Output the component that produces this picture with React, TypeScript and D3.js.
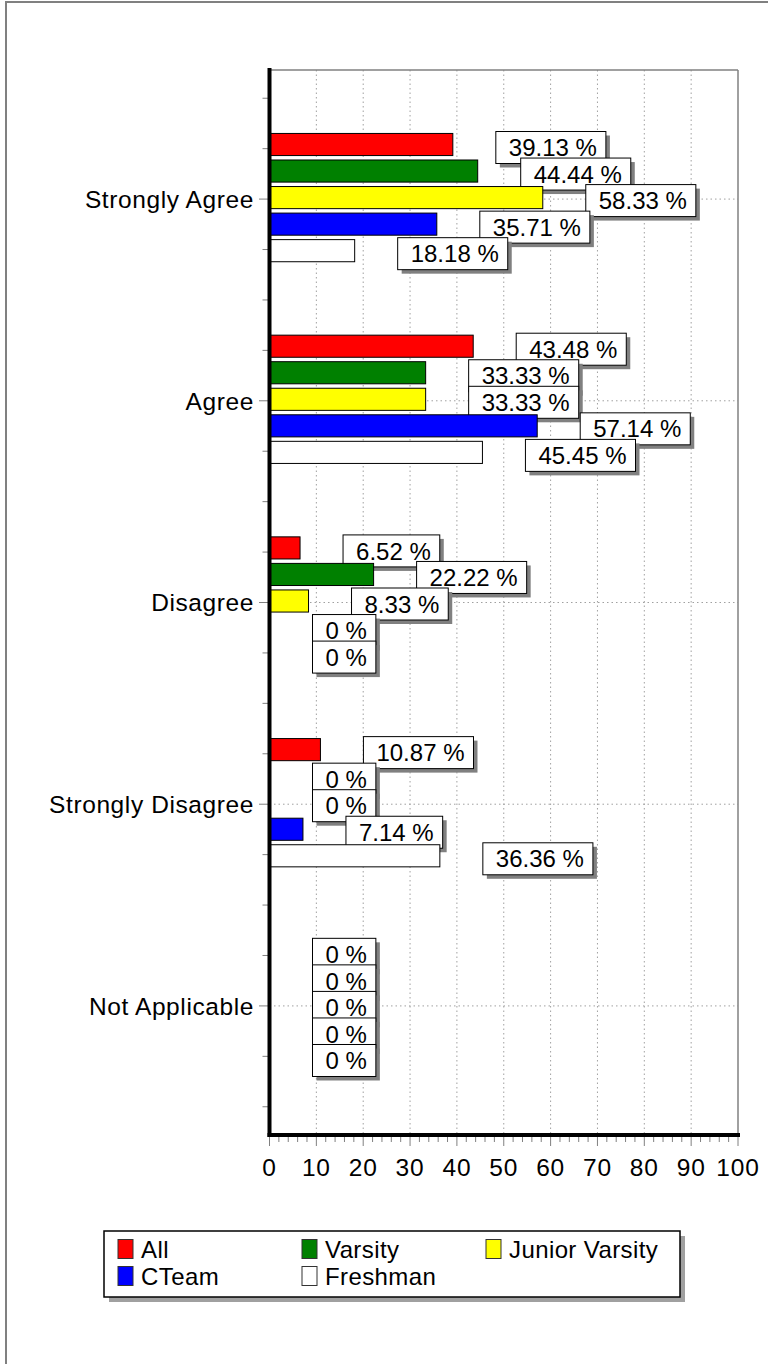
import React from "react";
import * as d3 from "d3";

const categories = ["Strongly Agree", "Agree", "Disagree", "Strongly Disagree", "Not Applicable"];
const seriesNames = ["All", "Varsity", "Junior Varsity", "CTeam", "Freshman"];
const seriesColors = ["#FF0000", "#008000", "#FFFF00", "#0000FF", "#FFFFFF"];
const allValues = [39.13, 43.48, 6.52, 10.87, 0];
const varsityValues = [44.44, 33.33, 22.22, 0, 0];
const juniorVarsityValues = [58.33, 33.33, 8.33, 0, 0];
const cteamValues = [35.71, 57.14, 0, 7.14, 0];
const freshmanValues = [18.18, 45.45, 0, 36.36, 0];
const xTickValues = [0, 10, 20, 30, 40, 50, 60, 70, 80, 90, 100];

const seriesValues = [allValues, varsityValues, juniorVarsityValues, cteamValues, freshmanValues];

const W = 768;
const H = 1364;
const FONT = "'Liberation Sans', Arial, sans-serif";
const FS = 24;

let ctx: CanvasRenderingContext2D | null = null;
function measure(t: string, size = FS) {
  if (!ctx && typeof document !== "undefined") {
    ctx = document.createElement("canvas").getContext("2d");
  }
  if (!ctx) return t.length * size * 0.55;
  ctx.font = `${size}px ${FONT}`;
  return ctx.measureText(t).width;
}

export default function App() {
  const left = 269.5;
  const right = 738;
  const top = 70;
  const bottom = 1135;

  const x = d3.scaleLinear().domain([0, 100]).range([left, right]);
  const y = d3.scalePoint<string>().domain(categories).range([top, bottom]).padding(0.64);
  const step = y.step();
  const inner = d3
    .scaleBand<string>()
    .domain(seriesNames)
    .range([-step * 0.318, step * 0.318])
    .paddingInner(0.167);

  const yTicks: { pos: number; major: boolean }[] = [];
  categories.forEach((c) => {
    for (let k = -2; k <= 2; k++) {
      const p = (y(c) as number) + (k * step) / 4;
      if (!yTicks.some((t) => Math.abs(t.pos - p) < 1)) yTicks.push({ pos: p, major: k === 0 });
    }
  });
  const minorX = d3.range(0, 101, 2);

  const grid = "#A0A0A0";

  return (
    <svg width={W} height={H} style={{ position: "absolute", left: 0, top: 0 }} fontFamily={FONT}>
      <rect x={0} y={0} width={W} height={H} fill="#fff" />
      {/* outer frame */}
      <line x1={6} y1={2} x2={W} y2={2} stroke="#808080" strokeWidth={2} />
      <line x1={6} y1={1} x2={6} y2={H} stroke="#808080" strokeWidth={2} />

      {/* grid */}
      {xTickValues.slice(1, -1).map((v) => (
        <line key={"gx" + v} x1={x(v)} x2={x(v)} y1={top} y2={bottom} stroke={grid} strokeDasharray="1.5 3" />
      ))}
      {categories.map((c) => (
        <line key={"gy" + c} x1={left} x2={right} y1={y(c)} y2={y(c)} stroke={grid} strokeDasharray="1.5 3" />
      ))}
      {/* plot frame */}
      <line x1={left} x2={right} y1={top} y2={top} stroke="#808080" strokeWidth={1.5} />
      <line x1={right} x2={right} y1={top} y2={bottom} stroke="#808080" strokeWidth={1.5} />

      {/* series: bars then labels */}
      {seriesNames.map((s, si) => (
        <g key={s}>
          {categories.map((c, ci) => {
            const v = seriesValues[si][ci];
            const by = (y(c) as number) - 1.5 + (inner(s) as number);
            const bh = inner.bandwidth();
            return (
              <rect
                key={"b" + c}
                x={x(0)}
                y={by}
                width={Math.max(0, x(v) - x(0))}
                height={bh}
                fill={seriesColors[si]}
                stroke="#000"
                strokeWidth={1}
              />
            );
          })}
          {categories.map((c, ci) => {
            const v = seriesValues[si][ci];
            const label = `${v} %`;
            const tw = measure(label);
            const bw = tw + 22;
            const bh = 32;
            const cy = (y(c) as number) - 1.5 + (inner(s) as number) + inner.bandwidth() / 2 + 3;
            const bx = x(v) + 43;
            const byy = cy - bh / 2;
            return (
              <g key={"l" + c}>
                <rect x={bx + 4} y={byy + 4} width={bw} height={bh} fill="#808080" />
                <rect x={bx} y={byy} width={bw} height={bh} fill="#fff" stroke="#000" strokeWidth={1} />
                <text x={bx + 13} y={cy} dy="0.36em" fontSize={FS} fill="#000">
                  {label}
                </text>
              </g>
            );
          })}
        </g>
      ))}

      {/* y axis */}
      {yTicks.map((t, i) => (
        <line key={"yt" + i} x1={t.major ? 259 : 262.5} x2={left} y1={t.pos} y2={t.pos} stroke="#808080" strokeWidth={1} />
      ))}
      {categories.map((c) => (
        <text key={"yl" + c} x={254} y={y(c)} dy="0.36em" textAnchor="end" fontSize={24.5} letterSpacing={0.6} fill="#000">
          {c}
        </text>
      ))}
      <line x1={left} x2={left} y1={top - 2} y2={bottom + 2} stroke="#000" strokeWidth={4} />

      {/* x axis */}
      {minorX.map((v) => (
        <line
          key={"xt" + v}
          x1={x(v)}
          x2={x(v)}
          y1={bottom}
          y2={bottom + (v % 10 === 0 ? 11 : 7)}
          stroke="#808080"
          strokeWidth={1}
        />
      ))}
      <line x1={left - 2} x2={right + 2} y1={bottom} y2={bottom} stroke="#000" strokeWidth={4} />
      {xTickValues.map((v) => (
        <text key={"xl" + v} x={x(v)} y={1167} dy="0.36em" textAnchor="middle" fontSize={24.5} letterSpacing={0.8} fill="#000">
          {v}
        </text>
      ))}

      {/* legend */}
      <rect x={109} y={1236} width={576} height={66} fill="#A0A0A0" />
      <rect x={104} y={1231} width={576} height={66} fill="#fff" stroke="#000" strokeWidth={1.5} />
      {seriesNames.map((s, i) => {
        const col = i % 3;
        const row = Math.floor(i / 3);
        const sx = [118, 302, 486][col];
        const cy = [1249, 1276][row];
        return (
          <g key={"lg" + s}>
            <rect x={sx} y={cy - 9.5} width={15} height={19} fill={seriesColors[i]} stroke="#333" strokeWidth={1} />
            <text x={sx + 23} y={cy} dy="0.36em" fontSize={24} letterSpacing={0.4} fill="#000">
              {s}
            </text>
          </g>
        );
      })}
    </svg>
  );
}
